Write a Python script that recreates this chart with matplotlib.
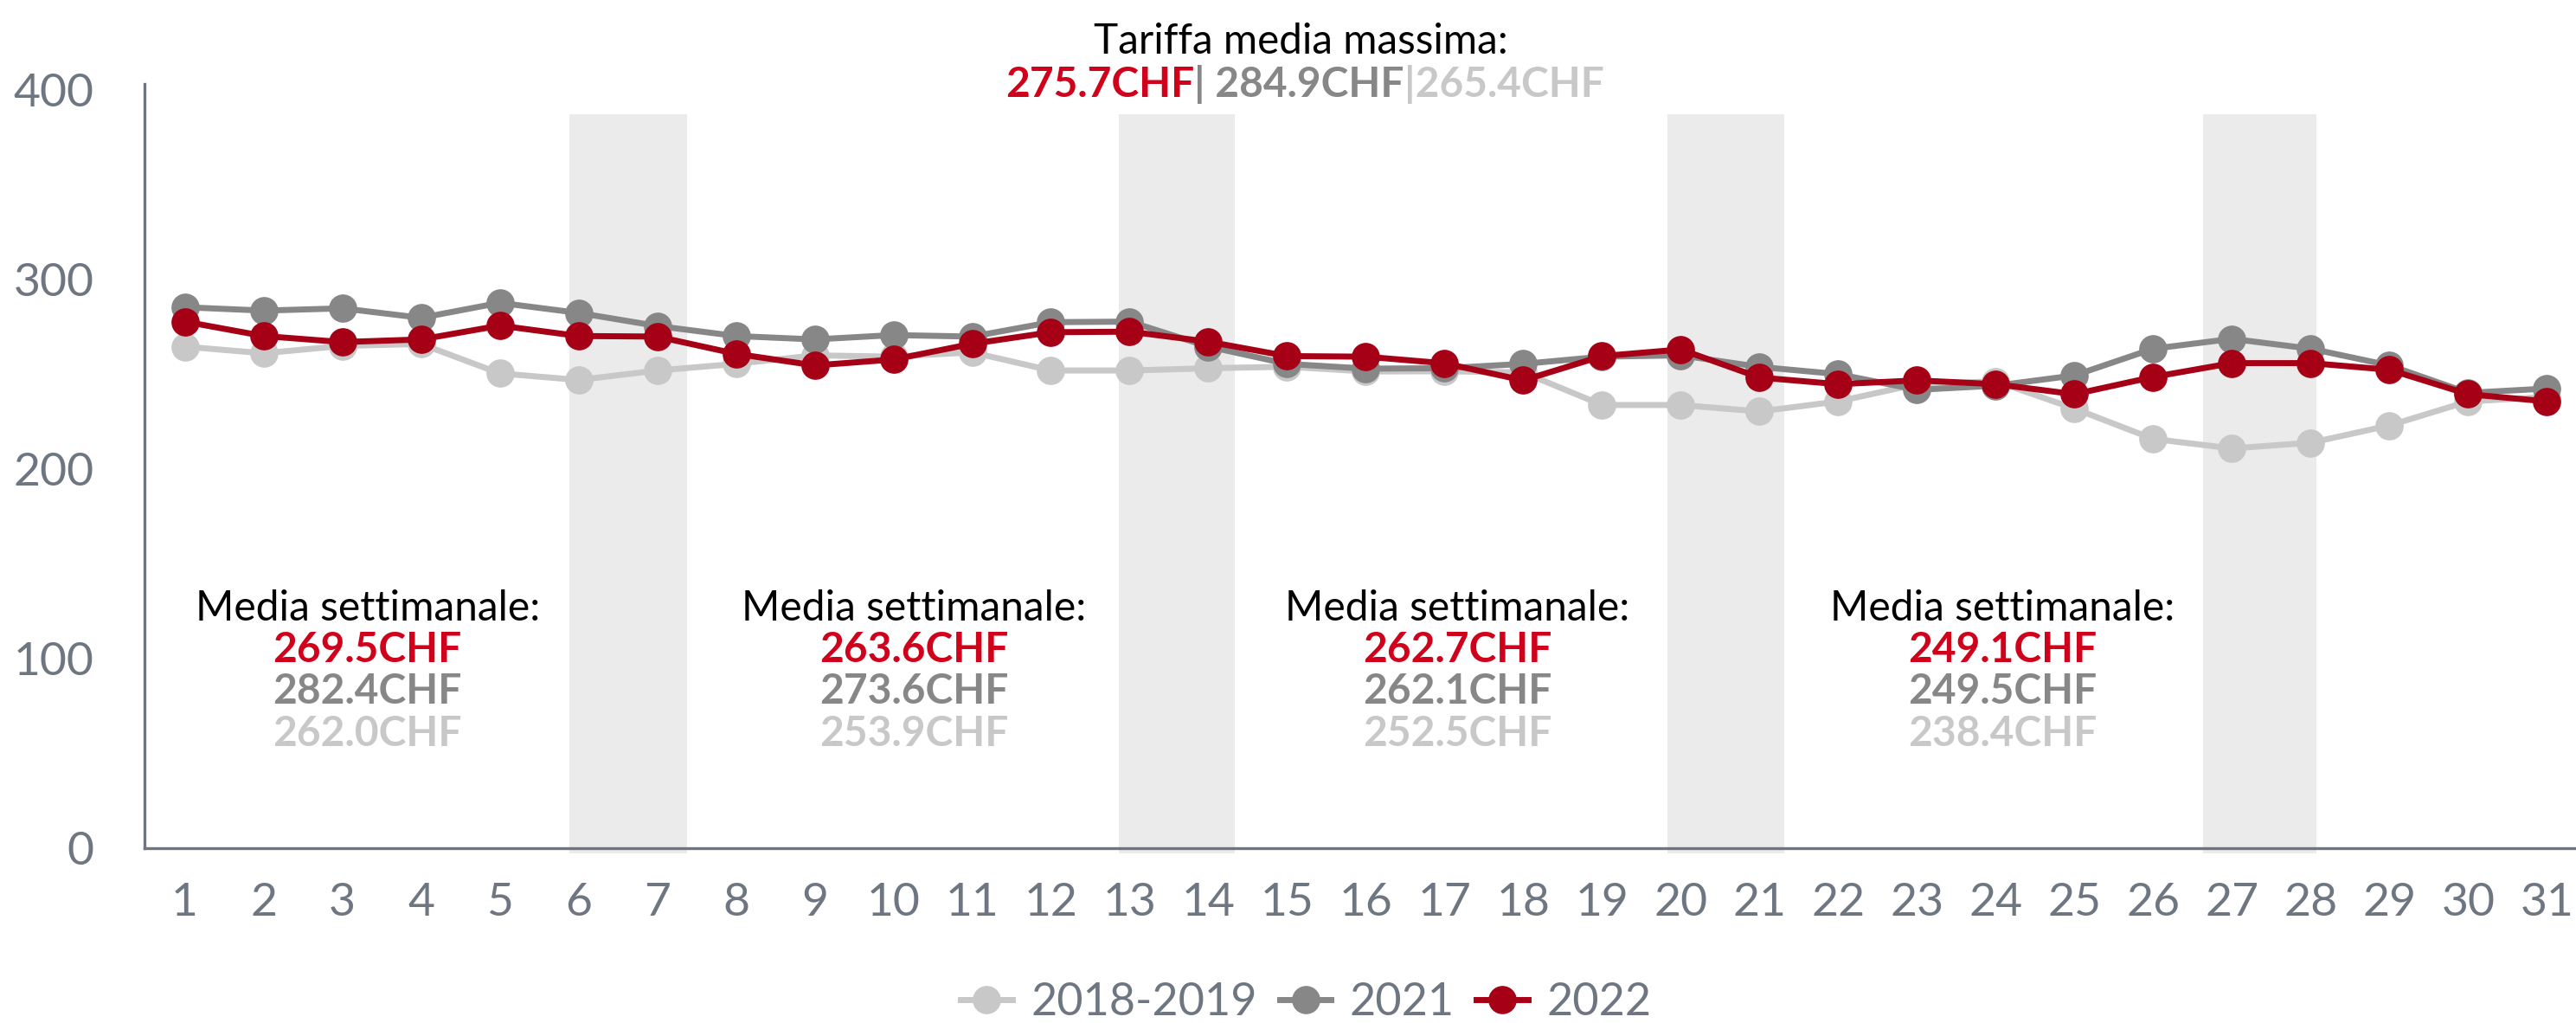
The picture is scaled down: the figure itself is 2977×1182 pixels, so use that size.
import matplotlib
matplotlib.use("Agg")
import matplotlib.pyplot as plt
from matplotlib.offsetbox import TextArea, HPacker, AnnotationBbox

plt.rcParams['font.family'] = ['Lato', 'DejaVu Sans']

# --- data -------------------------------------------------------------
days = list(range(1, 32))

y_2018_2019 = [264.6, 261.1, 265.0, 266.0, 250.5, 247.0, 252.0, 255.5, 260.0, 259.3,
               261.6, 252.0, 252.0, 253.2, 254.0, 251.5, 251.6, 251.0, 233.8, 233.8,
               230.4, 235.7, 244.8, 246.3, 231.9, 215.9, 210.9, 213.9, 223.0, 235.7,
               238.0]
y_2021 = [285.4, 283.6, 284.8, 279.8, 287.7, 282.4, 275.5, 270.2, 268.4, 270.7,
          269.9, 277.5, 277.8, 264.6, 255.5, 253.0, 253.2, 255.5, 259.3, 260.0,
          253.9, 250.1, 241.8, 244.0, 249.4, 263.5, 268.7, 263.5, 254.7, 240.2,
          242.5]
y_2022 = [277.8, 270.2, 267.0, 268.4, 275.7, 270.2, 269.9, 260.8, 254.7, 257.8,
          266.1, 272.2, 272.5, 267.2, 259.6, 259.3, 255.8, 246.8, 259.6, 263.1,
          248.3, 244.8, 246.8, 244.8, 239.5, 248.6, 255.9, 255.9, 252.4, 239.5,
          235.7]

series_labels = ['2018-2019', '2021', '2022']

# weekend bands (day ranges)
weekends = [(5.88, 7.38), (12.86, 14.34), (19.83, 21.31), (26.63, 28.07)]

# weekly averages: 2022, 2021, 2018-2019
weekly_2022 = ['269.5CHF', '263.6CHF', '262.7CHF', '249.1CHF']
weekly_2021 = ['282.4CHF', '273.6CHF', '262.1CHF', '249.5CHF']
weekly_2018 = ['262.0CHF', '253.9CHF', '252.5CHF', '238.4CHF']
weekly_x = [3.32, 10.26, 17.16, 24.09]

max_vals = ['275.7CHF', '284.9CHF', '265.4CHF']

# --- style ------------------------------------------------------------
c_light = '#C8C8C8'
c_gray = '#878787'
c_red = '#A50016'
c_red_txt = '#D0021B'
c_axis = '#6E7781'

fig = plt.figure(figsize=(29.77, 11.82), dpi=100)
ax = fig.add_axes([167 / 2977, 0.1709, 1 - 167 / 2977, 0.7467])

for x0, x1 in weekends:
    ax.axvspan(x0, x1, ymin=-2.7 / 403, ymax=387 / 403, color='#EBEBEB',
               lw=0, zorder=0, clip_on=False)

ms, lw = 22.5, 5
ax.plot(days, y_2018_2019, color=c_light, marker='o', ms=ms, lw=lw,
        label=series_labels[0], zorder=2)
ax.plot(days, y_2021, color=c_gray, marker='o', ms=ms, lw=lw,
        label=series_labels[1], zorder=3)
ax.plot(days, y_2022, color=c_red, marker='o', ms=ms, lw=lw,
        label=series_labels[2], zorder=4)

ax.set_xlim(0.488, 31.37)
ax.set_ylim(0, 403)
ax.set_xticks(days)
ax.set_yticks([0, 100, 200, 300, 400])
ax.tick_params(axis='both', length=0, labelsize=38.5, labelcolor=c_axis)
ax.tick_params(axis='x', pad=29)
ax.tick_params(axis='y', pad=42)
for s in ['top', 'right']:
    ax.spines[s].set_visible(False)
for s in ['left', 'bottom']:
    ax.spines[s].set_color(c_axis)
    ax.spines[s].set_linewidth(2.4)

# weekly average blocks
base = [120.1, 98.2, 76.3, 53.9]
for i, xc in enumerate(weekly_x):
    ax.text(xc, base[0], 'Media settimanale:', ha='center', va='baseline',
            fontsize=34.5, color='black')
    ax.text(xc, base[1], weekly_2022[i], ha='center', va='baseline',
            fontsize=34.5, fontweight='bold', color=c_red_txt)
    ax.text(xc, base[2], weekly_2021[i], ha='center', va='baseline',
            fontsize=34.5, fontweight='bold', color=c_gray)
    ax.text(xc, base[3], weekly_2018[i], ha='center', va='baseline',
            fontsize=34.5, fontweight='bold', color=c_light)

# title
fig.text(0.505, 1 - 62 / 1182, 'Tariffa media massima:', ha='center',
         va='baseline', fontsize=34.3, color='black')
parts = [
    TextArea(max_vals[0], textprops=dict(fontsize=34.5, fontweight='bold', color=c_red_txt)),
    TextArea('| ' + max_vals[1], textprops=dict(fontsize=34.5, fontweight='bold', color=c_gray)),
    TextArea('|' + max_vals[2], textprops=dict(fontsize=34.5, fontweight='bold', color=c_light)),
]
row = HPacker(children=parts, align='baseline', pad=0, sep=0)
ab = AnnotationBbox(row, (0.5065, 1 - 120 / 1182), xycoords='figure fraction',
                    box_alignment=(0.5, 0), frameon=False, pad=0)
fig.add_artist(ab)

leg = ax.legend(loc='lower center', bbox_to_anchor=(0.507, -0.022),
                bbox_transform=fig.transFigure, ncol=3, frameon=False,
                fontsize=37.5, handlelength=1.15, handletextpad=0.4,
                columnspacing=0.5, borderpad=0, markerscale=1.0)
for t in leg.get_texts():
    t.set_color(c_axis)

fig.savefig('out.png', dpi=100)
